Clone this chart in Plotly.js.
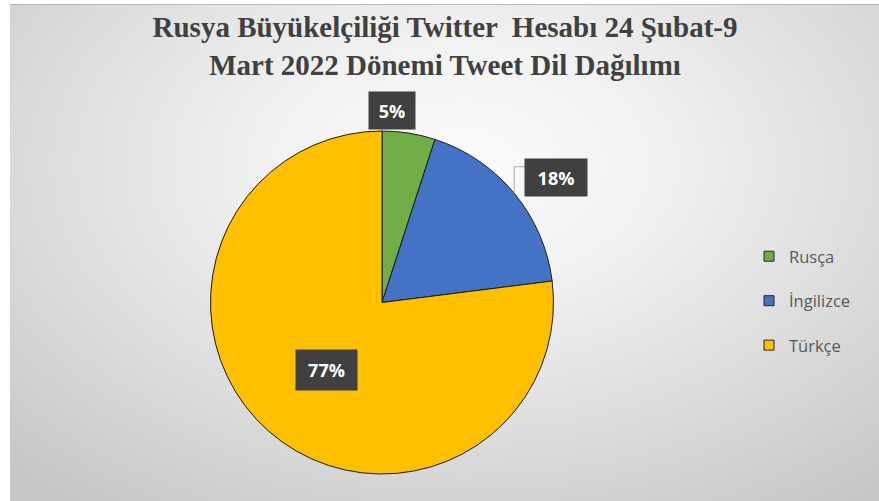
<!DOCTYPE html>
<html>
<head>
<meta charset="utf-8">
<script src="https://cdn.plot.ly/plotly-3.0.1.min.js"></script>
<style>
  html, body { margin: 0; padding: 0; background: #ffffff; }
  #wrap { position: relative; width: 879px; height: 501px; overflow: hidden; }
  #bg { position: absolute; left: 10px; top: 4px; width: 869px; height: 497px;
        background: radial-gradient(ellipse 75% 85% at 52% 32%, #fbfbfb 0%, #f1f1f1 30%, #dcdcdc 65%, #c6c6c6 100%);
        border-top: 1px solid #b8b8b8; }
  #chart { position: absolute; left: 0; top: 0; width: 879px; height: 501px; }
</style>
</head>
<body>
<div id="wrap"><div id="bg"></div><div id="chart"></div></div>
<script>
// ---- data ----
const labels = ["Rusça", "İngilizce", "Türkçe"];
const values = [5, 18, 77];
const colors = ["#70AD47", "#4472C4", "#FFC000"];
const titleText = "Rusya Büyükelçiliği Twitter  Hesabı 24 Şubat-9<br>Mart 2022 Dönemi Tweet Dil Dağılımı";

// ---- layout geometry (pixels) ----
const W = 879, H = 501;
const cx = 382, cy = 302.5, R = 171.5;
const labelRadius = [1.12, 1.25, 0.51];
const labelAngleShift = [-6, 4, -2];
const boxW = [46, 62, 61];
const boxH = [37, 37, 40];

const px = x => x / W;
const py = y => 1 - y / H;

const total = values.reduce((a, b) => a + b, 0);
let cum = 0;
const annotations = [];
const shapes = [];
values.forEach((v, i) => {
  const mid = (cum + v / 2) / total * 360;
  cum += v;
  const a = (mid + labelAngleShift[i]) * Math.PI / 180;
  const r = labelRadius[i] * R;
  const lx = cx + r * Math.sin(a), ly = cy - r * Math.cos(a);
  annotations.push({
    x: px(lx), y: py(ly), xref: "paper", yref: "paper",
    xanchor: "center", yanchor: "middle",
    text: "<b>" + Math.round(v / total * 100) + "%</b>",
    showarrow: false, bgcolor: "#404040",
    width: boxW[i], height: boxH[i], borderpad: 0,
    font: { family: "Open Sans, Liberation Sans, sans-serif", size: 18, color: "#ffffff" }
  });
  if (labelRadius[i] > 1.2) {
    const m = mid * Math.PI / 180;
    const ex = cx + R * Math.sin(m), ey = cy - R * Math.cos(m);
    const bx = lx - boxW[i] / 2, by = ly - 11;
    shapes.push({
      type: "path", xref: "paper", yref: "paper",
      path: `M ${px(ex)} ${py(ey)} L ${px(ex)} ${py(by)} L ${px(bx)} ${py(by)}`,
      line: { color: "#a6a6a6", width: 1 }
    });
  }
});

const pie = {
  type: "pie", labels: labels, values: values, sort: false,
  direction: "clockwise", rotation: 0,
  marker: { colors: colors, line: { color: "#1a1a1a", width: 1 } },
  textinfo: "none", hoverinfo: "label+percent", showlegend: false,
  domain: { x: [px(cx - R), px(cx + R)], y: [py(cy + R), py(cy - R)] }
};

const legendTraces = labels.map((l, i) => ({
  type: "scatter", mode: "markers", x: [null], y: [null], name: l,
  legendgroup: l, showlegend: true,
  marker: { symbol: "square", size: 10, color: colors[i], line: { color: "#262626", width: 1 } }
}));

const layout = {
  width: W, height: H,
  margin: { l: 0, r: 0, t: 0, b: 0 },
  paper_bgcolor: "rgba(0,0,0,0)", plot_bgcolor: "rgba(0,0,0,0)",
  title: {
    text: "<b>" + titleText + "</b>",
    x: px(445), xanchor: "center", y: py(37), yanchor: "top",
    font: { family: "Liberation Serif, serif", size: 29, color: "#404040" }
  },
  xaxis: { visible: false, domain: [0.95, 1] },
  yaxis: { visible: false, domain: [0.95, 1] },
  showlegend: true,
  legend: {
    x: px(749), xanchor: "left", y: py(239), yanchor: "top",
    font: { family: "Open Sans, Liberation Sans, sans-serif", size: 16.5, color: "#595959" },
    tracegroupgap: 20, bgcolor: "rgba(0,0,0,0)"
  },
  annotations: annotations,
  shapes: shapes
};

Plotly.newPlot("chart", [pie].concat(legendTraces), layout, { displayModeBar: false, staticPlot: true });
</script>
</body>
</html>
